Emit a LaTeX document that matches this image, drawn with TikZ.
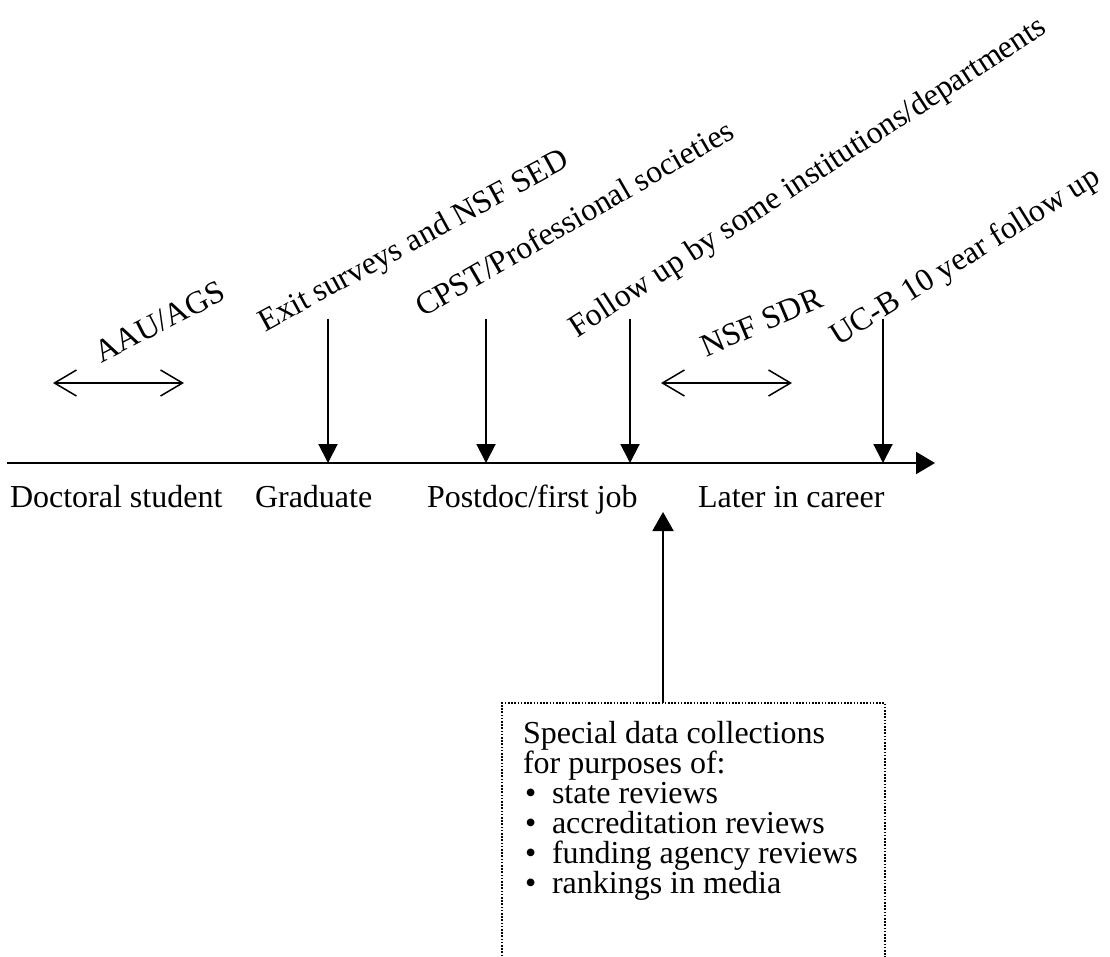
\documentclass[tikz,border=0pt]{standalone}
\usepackage{fontspec}
\setmainfont{Liberation Serif}
\usetikzlibrary{arrows.meta}
\begin{document}
\begin{tikzpicture}[x=1pt,y=-1pt,
  every node/.style={inner sep=0pt, outer sep=0pt, font=\fontsize{32}{30}\selectfont},
  lbl/.style={anchor=base west},
  rlbl/.style={anchor=base west, rotate=#1},
  downarrow/.style={line width=2pt, -{Triangle[length=19pt,width=19pt]}},
  uparrow/.style={line width=2pt, -{Triangle[length=19pt,width=21pt]}},
  timeline/.style={line width=2pt, -{Triangle[length=19pt,width=22pt]}},
  span/.style={line width=1.5pt, {Straight Barb[length=22pt,width=26pt]}-{Straight Barb[length=22pt,width=26pt]}},
  dotbox/.style={draw, line width=1.4pt, dash pattern=on 1.6pt off 1.6pt, anchor=north west}
]
\useasboundingbox (0,0) rectangle (1110,957);

% timeline
\coordinate (t0) at (7,463);
\coordinate (t1) at (935,463);
\draw[timeline] (t0) -- (t1);

% stage labels
\node[lbl] (doc) at (10,507) {Doctoral student};
\node[lbl] (grad) at (255,507) {Graduate};
\node[lbl] (post) at (427,507) {Postdoc/first job};
\node[lbl] (later) at (698,507) {Later in career};

% rotated source labels
\node[rlbl=27] (aau) at (101,363) {AAU/AGS};
\node[rlbl=28.5] (exit) at (265,332) {Exit surveys and NSF SED};
\node[rlbl=30] (cpst) at (423,318) {CPST/Professional societies};
\node[rlbl=33] (follow) at (577,338) {Follow up by some institutions/departments};
\node[rlbl=23] (sdr) at (706,357) {NSF SDR};
\node[rlbl=32] (ucb) at (838,347) {UC-B 10 year follow up};

% span arrows
\coordinate (aauL) at (53,383);
\coordinate (aauR) at (184,383);
\draw[span] (aauL) -- (aauR);
\coordinate (sdrL) at (661,383);
\coordinate (sdrR) at (792,383);
\draw[span] (sdrL) -- (sdrR);

% point arrows
\coordinate (exitT) at (328,319);
\coordinate (exitB) at (328,463);
\draw[downarrow] (exitT) -- (exitB);
\coordinate (cpstT) at (486,319);
\coordinate (cpstB) at (486,463);
\draw[downarrow] (cpstT) -- (cpstB);
\coordinate (follT) at (630,319);
\coordinate (follB) at (630,463);
\draw[downarrow] (follT) -- (follB);
\coordinate (ucbT) at (883,319);
\coordinate (ucbB) at (883,463);
\draw[downarrow] (ucbT) -- (ucbB);

% special data collections box
\node[dotbox, minimum width=383pt, minimum height=320pt] (box) at (502,703) {};
\coordinate (boxtop) at (663,703);
\coordinate (uptip) at (663,512);
\draw[uparrow] (boxtop) -- (uptip);

\node[lbl] (s1) at (523,743) {Special data collections};
\node[lbl] (s2) at (523,773) {for purposes of:};
\node[lbl] (b1) at (525,803) {•};
\node[lbl] (i1) at (552,803) {state reviews};
\node[lbl] (b2) at (525,833) {•};
\node[lbl] (i2) at (552,833) {accreditation reviews};
\node[lbl] (b3) at (525,863) {•};
\node[lbl] (i3) at (552,863) {funding agency reviews};
\node[lbl] (b4) at (525,893) {•};
\node[lbl] (i4) at (552,893) {rankings in media};
\end{tikzpicture}
\end{document}
